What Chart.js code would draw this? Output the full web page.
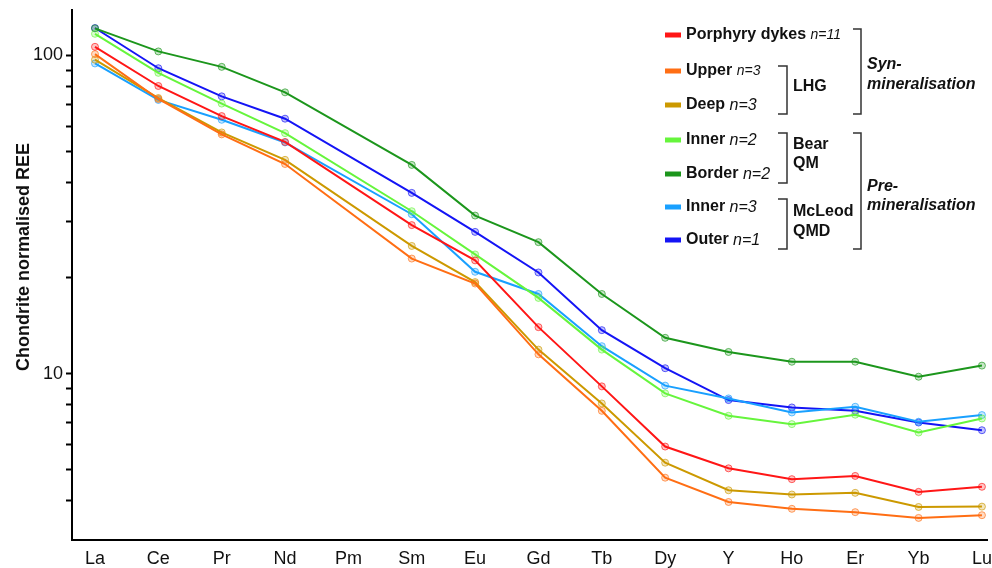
<!DOCTYPE html>
<html>
<head>
<meta charset="utf-8">
<script src="https://cdn.jsdelivr.net/npm/chart.js@4"></script>
<style>
  html, body { margin: 0; padding: 0; background: #fff; }
</style>
</head>
<body>
<canvas id="ree" width="992" height="568"></canvas>
<script>
const elements = ['La', 'Ce', 'Pr', 'Nd', 'Pm', 'Sm', 'Eu', 'Gd', 'Tb', 'Dy', 'Y', 'Ho', 'Er', 'Yb', 'Lu'];
const yTicks = [4, 5, 6, 7, 8, 9, 10, 20, 30, 40, 50, 60, 70, 80, 90, 100];
const yTickLabels = [10, 100];

const porphyry    = [106.5, 80.2, 64.5, 53.5, null, 29.3, 22.7, 14.0, 9.12, 5.90, 5.04, 4.66, 4.77, 4.25, 4.41];
const lhgUpper    = [101, 73.0, 56.5, 45.6, null, 23.0, 19.2, 11.5, 7.64, 4.71, 3.95, 3.76, 3.67, 3.52, 3.59];
const lhgDeep     = [97, 73.5, 57.3, 47.0, null, 25.2, 19.4, 11.9, 8.06, 5.25, 4.30, 4.17, 4.22, 3.81, 3.82];
const bearInner   = [117, 88.2, 70.6, 57.0, null, 32.4, 23.7, 17.3, 11.9, 8.67, 7.37, 6.94, 7.43, 6.53, 7.23];
const bearBorder  = [121.7, 103, 92.1, 76.6, null, 45.3, 31.4, 25.9, 17.8, 12.96, 11.7, 10.9, 10.9, 9.78, 10.6];
const mcleodInner = [94.4, 72.5, 62.8, 53.3, null, 31.7, 20.9, 17.8, 12.2, 9.17, 8.36, 7.55, 7.87, 7.06, 7.41];
const mcleodOuter = [122, 91.2, 74.4, 63.3, null, 37.0, 27.9, 20.8, 13.7, 10.4, 8.26, 7.83, 7.64, 7.02, 6.64];

const seriesNames = ['Porphyry dykes', 'Upper', 'Deep', 'Inner', 'Border', 'Inner', 'Outer'];
const seriesN = ['n=11', 'n=3', 'n=3', 'n=2', 'n=2', 'n=3', 'n=1'];
const seriesValues = [porphyry, lhgUpper, lhgDeep, bearInner, bearBorder, mcleodInner, mcleodOuter];

// styles
const colours = [[255, 22, 22], [255, 110, 20], [204, 153, 0], [102, 245, 60], [28, 150, 28], [25, 160, 255], [20, 20, 245]];
const rgba = (c, a) => `rgba(${c[0]},${c[1]},${c[2]},${a})`;
const family = "'Liberation Sans', Arial, sans-serif";
Chart.defaults.font.family = family;

const datasets = seriesValues.map((vals, k) => ({
    label: seriesNames[k],
    data: vals.map((v, i) => ({ x: i, y: v })),
    borderColor: rgba(colours[k], 1),
    borderWidth: 2,
    pointRadius: 3.5,
    pointBorderWidth: 1,
    pointBackgroundColor: rgba(colours[k], 0.25),
    pointBorderColor: rgba(colours[k], 0.65),
    spanGaps: true,
    tension: 0,
    clip: false
}));

// y title + bracketed legend
const annotate = {
    id: 'annotate',
    afterDraw(chart) {
        const ctx = chart.ctx;
        ctx.save();
        ctx.fillStyle = '#111';
        ctx.textBaseline = 'middle';

        ctx.save();
        ctx.translate(24, 257);
        ctx.rotate(-Math.PI / 2);
        ctx.textAlign = 'center';
        ctx.font = 'bold 18px ' + family;
        ctx.fillText('Chondrite normalised REE', 0, 0);
        ctx.restore();

        const rowY = [35, 71, 105, 140, 174, 207, 240];
        const nSize = [14, 14, 16, 16, 16, 16, 16];
        ctx.textAlign = 'left';
        rowY.forEach((y, k) => {
            ctx.fillStyle = rgba(colours[k], 1);
            ctx.fillRect(665, y - 2.5, 16, 5);
            ctx.fillStyle = '#111';
            ctx.font = 'bold 16px ' + family;
            ctx.fillText(seriesNames[k], 686, y);
            const w = ctx.measureText(seriesNames[k] + ' ').width;
            ctx.font = `italic ${nSize[k]}px ` + family;
            ctx.fillText(seriesN[k], 686 + w, y + 0.5);
        });

        ctx.strokeStyle = '#333';
        ctx.lineWidth = 1.5;
        const bracket = (x, y0, y1, t) => {
            ctx.beginPath();
            ctx.moveTo(x - t, y0);
            ctx.lineTo(x, y0);
            ctx.lineTo(x, y1);
            ctx.lineTo(x - t, y1);
            ctx.stroke();
        };
        bracket(787, 66, 114, 9);
        bracket(787, 133, 183, 9);
        bracket(787, 199, 249, 9);
        bracket(861, 29, 114, 8);
        bracket(861, 133, 249, 8);

        ctx.font = 'bold 16px ' + family;
        ctx.fillText('LHG', 793, 87);
        ctx.fillText('Bear', 793, 145);
        ctx.fillText('QM', 793, 164);
        ctx.fillText('McLeod', 793, 212);
        ctx.fillText('QMD', 793, 232);
        ctx.font = 'italic bold 16px ' + family;
        ctx.fillText('Syn-', 867, 65);
        ctx.fillText('mineralisation', 867, 85);
        ctx.fillText('Pre-', 867, 187);
        ctx.fillText('mineralisation', 867, 206);
        ctx.restore();
    }
};

new Chart(document.getElementById('ree'), {
    type: 'line',
    data: { datasets },
    options: {
        responsive: false,
        animation: false,
        layout: { padding: { top: 10, right: 0, left: 0, bottom: 0 } },
        plugins: { legend: { display: false }, tooltip: { enabled: false } },
        scales: {
            x: {
                type: 'linear',
                min: -0.363,
                max: 14.08,
                afterBuildTicks: s => { s.ticks = elements.map((_, i) => ({ value: i })); },
                afterFit: s => { s.height = 28; s.paddingLeft = 0; s.paddingRight = 0; },
                ticks: { callback: v => elements[v], font: { size: 18 }, color: '#111', padding: 8, autoSkip: false, maxRotation: 0 },
                grid: { display: false, drawTicks: false },
                border: { display: true, color: '#000', width: 2 }
            },
            y: {
                type: 'logarithmic',
                min: 3,
                max: 139,
                afterBuildTicks: s => { s.ticks = yTicks.map(v => ({ value: v })); },
                afterFit: s => { s.width = 72; s.paddingTop = 0; s.paddingBottom = 0; },
                ticks: { callback: v => yTickLabels.includes(v) ? String(v) : '', font: { size: 18 }, color: '#111', padding: 3, autoSkip: false },
                grid: { drawOnChartArea: false, tickLength: 6, tickWidth: 2, tickColor: '#000', color: '#000' },
                border: { color: '#000', width: 2 }
            }
        }
    },
    plugins: [annotate]
});
</script>
</body>
</html>
